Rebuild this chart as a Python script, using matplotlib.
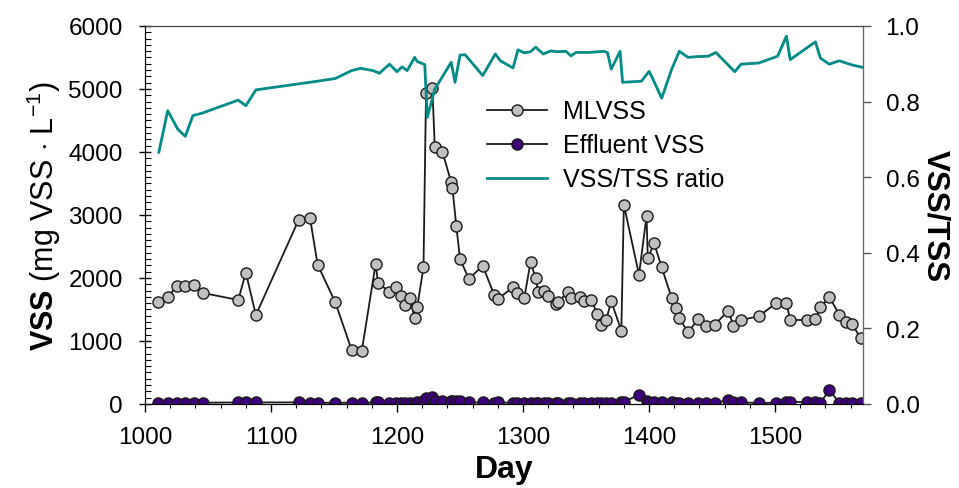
import matplotlib
matplotlib.use("Agg")
import matplotlib.pyplot as plt
from matplotlib.ticker import MultipleLocator

plt.rcParams['font.family'] = ['Liberation Sans', 'DejaVu Sans']
plt.rcParams['mathtext.fontset'] = 'custom'
plt.rcParams['mathtext.rm'] = 'Liberation Sans'
plt.rcParams['mathtext.bf'] = 'Liberation Sans:bold'

# ---- data ----
ml_days = [1010, 1018, 1025, 1032, 1039, 1046, 1074, 1080, 1088, 1122, 1131, 1137,
           1151, 1164, 1172, 1183, 1185, 1194, 1199, 1203, 1206, 1210, 1214, 1216,
           1221, 1223, 1228, 1230, 1236, 1243, 1244, 1247, 1250, 1257, 1268, 1277,
           1280, 1292, 1295, 1301, 1306, 1310, 1312, 1317, 1320, 1326, 1328, 1336,
           1338, 1345, 1348, 1354, 1359, 1362, 1366, 1370, 1378, 1380, 1392, 1398,
           1399, 1404, 1410, 1418, 1421, 1424, 1431, 1439, 1445, 1452, 1463, 1467,
           1473, 1487, 1501, 1509, 1512, 1525, 1532, 1536, 1543, 1551, 1556, 1561, 1568]
mlvss = [1614, 1693, 1868, 1868, 1889, 1762, 1651, 2085, 1413, 2926, 2947, 2212,
         1614, 857, 836, 2222, 1916, 1783, 1852, 1719, 1571, 1688, 1365, 1535,
         2170, 4937, 5016, 4075, 4005, 3519, 3423, 2831, 2302, 1984, 2196, 1735,
         1667, 1852, 1757, 1683, 2259, 1995, 1773, 1789, 1719, 1587, 1624, 1783,
         1683, 1693, 1630, 1656, 1429, 1259, 1339, 1630, 1164, 3164, 2053, 2979,
         2312, 2550, 2170, 1678, 1524, 1360, 1138, 1349, 1243, 1259, 1481, 1233,
         1333, 1392, 1603, 1603, 1333, 1333, 1349, 1535, 1703, 1413, 1297, 1270, 1043]

eff_days = ml_days
eff_vss = [20, 20, 20, 20, 20, 20, 25, 25, 25, 25, 20, 20,
           20, 20, 20, 25, 30, 20, 20, 20, 20, 20, 20, 25,
           40, 100, 115, 55, 45, 50, 45, 45, 40, 25, 25, 10,
           25, 20, 20, 20, 20, 20, 20, 20, 20, 15, 15, 20,
           20, 20, 20, 20, 15, 15, 15, 20, 25, 30, 150, 40,
           20, 25, 25, 30, 20, 20, 20, 20, 20, 20, 60, 35,
           25, 15, 20, 30, 35, 30, 25, 20, 220, 20, 20, 20, 20]

ratio_days = [1011, 1018, 1026, 1032, 1038, 1045, 1074, 1080, 1088, 1137, 1151, 1164,
              1171, 1181, 1186, 1194, 1200, 1204, 1208, 1214, 1216, 1222, 1224, 1230,
              1243, 1246, 1250, 1254, 1268, 1278, 1282, 1292, 1296, 1301, 1306, 1310,
              1316, 1322, 1327, 1334, 1338, 1342, 1352, 1364, 1367, 1370, 1377, 1379,
              1394, 1400, 1403, 1410, 1418, 1424, 1431, 1438, 1447, 1453, 1468, 1473,
              1487, 1502, 1509, 1512, 1532, 1536, 1543, 1551, 1561, 1569]
ratio = [0.666, 0.776, 0.727, 0.708, 0.763, 0.769, 0.804, 0.789, 0.831, 0.854, 0.861, 0.882,
         0.888, 0.882, 0.875, 0.899, 0.879, 0.892, 0.882, 0.917, 0.906, 0.898, 0.758, 0.833,
         0.904, 0.851, 0.923, 0.924, 0.869, 0.926, 0.908, 0.889, 0.937, 0.929, 0.932, 0.944,
         0.926, 0.934, 0.932, 0.933, 0.921, 0.930, 0.930, 0.933, 0.930, 0.886, 0.933, 0.851,
         0.854, 0.880, 0.860, 0.809, 0.886, 0.933, 0.917, 0.919, 0.920, 0.930, 0.879, 0.899,
         0.902, 0.920, 0.973, 0.911, 0.958, 0.915, 0.899, 0.908, 0.897, 0.891]

x_label = "Day"
y_label = r"$\bf{VSS}$ (mg VSS $\cdot$ L$^{-1}$)"
y2_label = "VSS/TSS"

# ---- figure ----
fig = plt.figure(figsize=(9.59, 4.89), dpi=100)
ax = fig.add_axes([0.1512, 0.1718, 0.749, 0.773])
ax2 = ax.twinx()

teal = '#008b87'
purple = '#3f0080'

l1, = ax.plot(ml_days, mlvss, '-o', color='#1a1a1a', lw=1.3, ms=8,
              mfc='#c0c0c0', mec='#1a1a1a', mew=1.0, label='MLVSS', zorder=3)
l2, = ax.plot(eff_days, eff_vss, '-o', color='#1a1a1a', lw=1.3, ms=8,
              mfc=purple, mec='#1a1a1a', mew=1.0, label='Effluent VSS', zorder=3)
l3, = ax2.plot(ratio_days, ratio, '-', color=teal, lw=2.0, label='VSS/TSS ratio')

ax.set_xlim(1000, 1570)
ax.set_ylim(0, 6000)
ax2.set_ylim(0, 1.0)

ax.xaxis.set_major_locator(MultipleLocator(100))
ax.xaxis.set_minor_locator(MultipleLocator(20))
ax.yaxis.set_major_locator(MultipleLocator(1000))
ax.yaxis.set_minor_locator(MultipleLocator(100))
ax2.yaxis.set_major_locator(MultipleLocator(0.2))
ax2.set_yticklabels([f"{v:.1f}" for v in ax2.get_yticks()])

fs = 17.5
ax.tick_params(axis='y', which='major', direction='inout', length=8, width=1,
               labelsize=fs, pad=12)
ax.tick_params(axis='y', which='minor', direction='in', length=4, width=0.8)
ax.tick_params(axis='x', which='major', direction='out', length=6, width=1,
               labelsize=fs, pad=10)
ax.tick_params(axis='x', which='minor', direction='out', length=3, width=0.8)
ax2.tick_params(axis='y', which='major', direction='out', length=6, width=1,
                labelsize=fs, color='#555555', pad=10)

for s in ['left', 'bottom', 'top']:
    ax.spines[s].set_color('#1a1a1a')
ax2.spines['right'].set_color('#666666')
ax2.spines['top'].set_color('#444444')

ax.set_xlabel(x_label, fontsize=23, fontweight='bold', labelpad=4)
ax.set_ylabel(y_label, fontsize=22, labelpad=4)
ax2.set_ylabel(y2_label, fontsize=22.5, fontweight='bold', rotation=270, labelpad=22)

ax2.legend(handles=[l1, l2, l3], loc='upper left', bbox_to_anchor=(0.476, 0.806),
           frameon=False, fontsize=18, handlelength=2.4, handletextpad=0.65,
           labelspacing=0.4, borderpad=0, borderaxespad=0)

fig.savefig('out.png', dpi=100)
